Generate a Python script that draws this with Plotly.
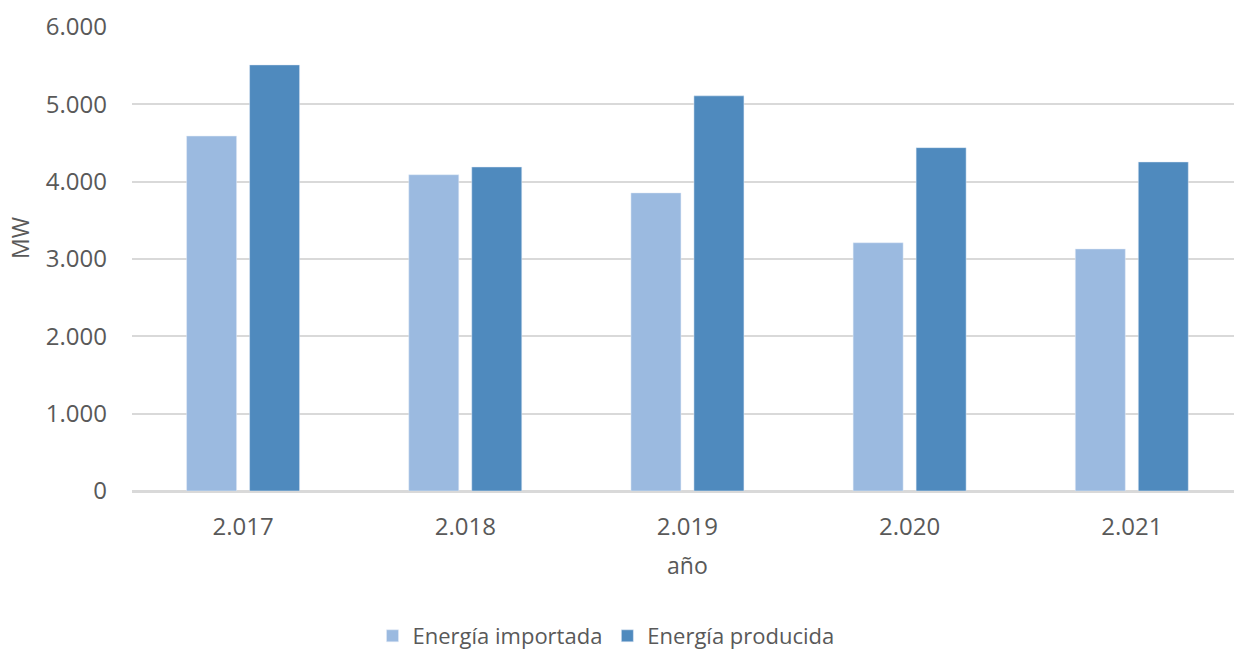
import plotly.graph_objects as go

years = ["2.017", "2.018", "2.019", "2.020", "2.021"]
importada = [4590, 4090, 3855, 3210, 3130]
producida = [5510, 4190, 5110, 4440, 4255]

font_fam = "Open Sans"
gray = "#595959"

W, H = 1234, 649
L, R, T, B = 132, 0, 27, 158
pw = W - L - R
ph = H - T - B

fig = go.Figure()
fig.add_trace(go.Bar(x=years, y=importada, name="Energía importada", marker_color="#9BBAE0"))
fig.add_trace(go.Bar(x=years, y=producida, name="Energía producida", marker_color="#4F8ABE"))

fig.update_layout(
    width=W, height=H,
    margin=dict(l=L, r=R, t=T, b=B, autoexpand=False),
    plot_bgcolor="white", paper_bgcolor="white",
    barmode="group", bargap=0.433, bargroupgap=0.206,
    font=dict(family=font_fam, size=24, color=gray),
    showlegend=True,
    legend=dict(orientation="h", x=(606 - L) / pw, xanchor="center",
                y=(T + ph - 636) / ph, yanchor="middle",
                font=dict(size=22, color=gray), itemwidth=30, tracegroupgap=0),
    annotations=[
        dict(text="MW", xref="paper", yref="paper", x=(20 - L) / pw, y=(T + ph - 238) / ph,
             xanchor="center", yanchor="middle", textangle=-90, showarrow=False,
             font=dict(size=23, color=gray)),
        dict(text="año", xref="paper", yref="paper", x=(687 - L) / pw, y=(T + ph - 565) / ph,
             xanchor="center", yanchor="middle", showarrow=False,
             font=dict(size=23, color=gray)),
    ],
)
fig.update_xaxes(
    automargin=False, range=[-0.5, 4.46],
    showgrid=False, showline=True, linecolor="#D9D9D9", linewidth=2,
    ticks="", tickfont=dict(size=24, color=gray), ticklabelstandoff=13,
)
fig.update_yaxes(
    automargin=False,
    range=[0, 6000], dtick=1000, tickformat=",d",
    showgrid=True, gridcolor="#D9D9D9", gridwidth=2,
    zeroline=True, zerolinecolor="#D9D9D9", zerolinewidth=2,
    ticks="", tickfont=dict(size=24, color=gray), ticklabelstandoff=24,
)
fig.update_layout(separators=",.")
fig.write_html("out.html")
